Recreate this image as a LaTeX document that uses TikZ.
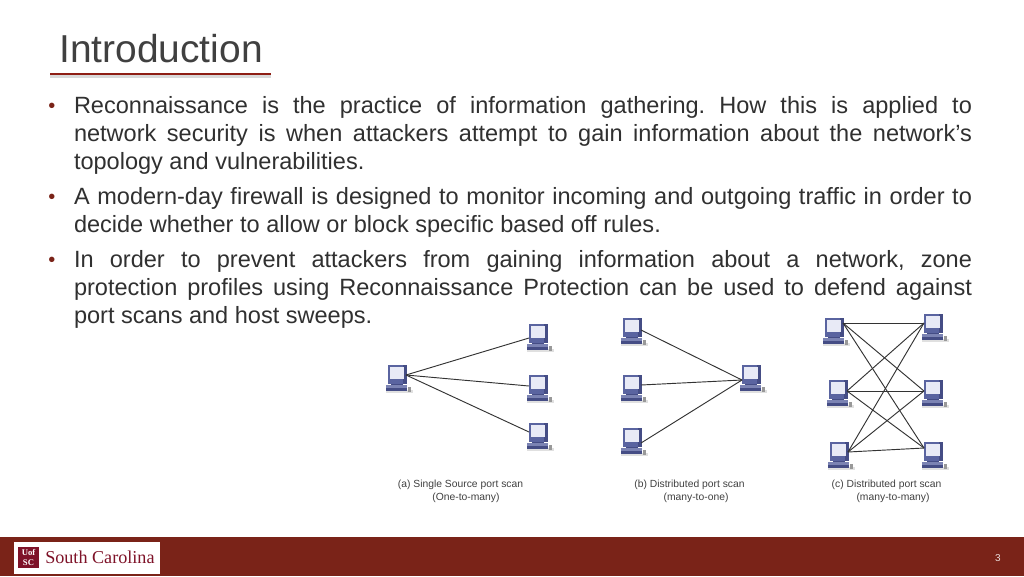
\documentclass[tikz,border=0pt]{standalone}
\usepackage{fontspec}
\setmainfont{Liberation Sans}
\newfontfamily\serifcar{Liberation Serif}
\definecolor{barred}{HTML}{7A2318}
\definecolor{logored}{HTML}{7E1228}
\definecolor{titlegray}{HTML}{404040}
\definecolor{bodygray}{HTML}{303030}
\definecolor{pcblue}{HTML}{5A64A0}
\definecolor{pcdark}{HTML}{454D85}
\definecolor{pcscreen}{HTML}{E8EAF6}
\definecolor{capgray}{HTML}{404040}
\tikzset{
  x=0.75pt,y=-0.75pt,
  bodyline/.style={anchor=base west,inner sep=0pt,outer sep=0pt,text=bodygray,font=\fontsize{17.65}{18}\selectfont},
  bulletmark/.style={anchor=base,inner sep=0pt,text=barred,font=\fontsize{15}{18}\selectfont},
  pcbox/.style={minimum width=13.5pt,minimum height=1pt,inner sep=0pt,outer sep=0pt},
  wire/.style={draw=black!80,line width=0.7pt},
  captext/.style={anchor=base,inner sep=0pt,text=capgray,font=\fontsize{7.75}{8}\selectfont},
  pcicon/.pic={
    \fill[pcblue] (-9,-9) rectangle (10,10);
    \fill[pcdark] (6,-9) rectangle (10,10);
    \fill[pcscreen] (-7,-7) rectangle (7,5);
    \fill[pcdark] (-6,10) rectangle (6,12);
    \fill[black!12] (-11,16) rectangle (16,19);
    \fill[pcblue!80!white] (-11,11) rectangle (10,14);
    \fill[pcdark] (-11,14) rectangle (10,17);
    \fill[black!40] (11,13) rectangle (14,18);
  }
}
\newcommand{\jline}[1]{\makebox[673.5pt][s]{#1}}
\frenchspacing
\begin{document}
\begin{tikzpicture}
\useasboundingbox (0,0) rectangle (1024,576);
\fill[white] (0,0) rectangle (1024,576);
% title
\node[anchor=base west,inner sep=0pt,text=titlegray,font=\fontsize{29.2}{30}\selectfont] (title) at (59,62) {Introduction};
\fill[black!15] (50,75) rectangle (271,77.5);
\fill[barred!85!red] (50,72.5) rectangle (271,75);
% body
\node[bulletmark] (b1m) at (52,112) {•};
\node[bodyline] (l1) at (74,113) {\jline{Reconnaissance is the practice of information gathering. How this is applied to}};
\node[bodyline] (l2) at (74,141) {\jline{network security is when attackers attempt to gain information about the network’s}};
\node[bodyline] (l3) at (74,169) {topology and vulnerabilities.};
\node[bulletmark] (b2m) at (52,203) {•};
\node[bodyline] (l4) at (74,204) {\jline{A modern-day firewall is designed to monitor incoming and outgoing traffic in order to}};
\node[bodyline] (l5) at (74,232) {decide whether to allow or block specific based off rules.};
\node[bulletmark] (b3m) at (52,266) {•};
\node[bodyline] (l6) at (74,267) {\jline{In order to prevent attackers from gaining information about a network, zone}};
\node[bodyline] (l7) at (74,295) {\jline{protection profiles using Reconnaissance Protection can be used to defend against}};
\node[bodyline] (l8) at (74,323) {port scans and host sweeps.};
% computers: name / x / icon y / wire y
\foreach \n/\x/\y/\w in {a0/397/374/375,a1/538/333/338,a2/538/384/386,a3/538/432/432,
  b1/632/327/330,b2/632/384/385,b3/632/437/443,b0/751/374/380,
  c1/834/327/323,c2/838/389/391,c3/839/451/452,d1/933/323/323,d2/933/389/391,d3/933/451/448}{
  \pic at (\x,\y) {pcicon};
  \node[pcbox] (\n) at (\x,\w) {};
}
% connectors (a)
\draw[wire] (a0.east) -- (a1.west);
\draw[wire] (a0.east) -- (a2.west);
\draw[wire] (a0.east) -- (a3.west);
% connectors (b)
\draw[wire] (b1.east) -- (b0.west);
\draw[wire] (b2.east) -- (b0.west);
\draw[wire] (b3.east) -- (b0.west);
% connectors (c)
\foreach \s in {c1,c2,c3}{\foreach \t in {d1,d2,d3}{\draw[wire] (\s.east) -- (\t.west);}}
% captions
\node[captext] (ca1) at (460.5,487) {(a) Single Source port scan};
\node[captext] (ca2) at (466,500) {(One-to-many)};
\node[captext] (cb1) at (689.5,487) {(b) Distributed port scan};
\node[captext] (cb2) at (696,500) {(many-to-one)};
\node[captext] (cc1) at (886.5,487) {(c) Distributed port scan};
\node[captext] (cc2) at (893,500) {(many-to-many)};
% footer
\fill[barred] (0,537) rectangle (1024,576);
\fill[white] (14,542) rectangle (160,574);
\fill[logored] (18,547) rectangle (39,568);
\node[inner sep=0pt,text=white,align=center,font=\serifcar\fontsize{6.5}{7}\selectfont\bfseries] (uofsc) at (28.5,557.5) {Uof\\SC};
\node[anchor=base west,inner sep=0pt,text=logored,font=\serifcar\fontsize{13.6}{14}\selectfont] (logo) at (45,563) {South Carolina};
\node[inner sep=0pt,text=white!85!barred,font=\fontsize{7.5}{8}\selectfont] (page) at (998,558) {3};
\end{tikzpicture}
\end{document}
